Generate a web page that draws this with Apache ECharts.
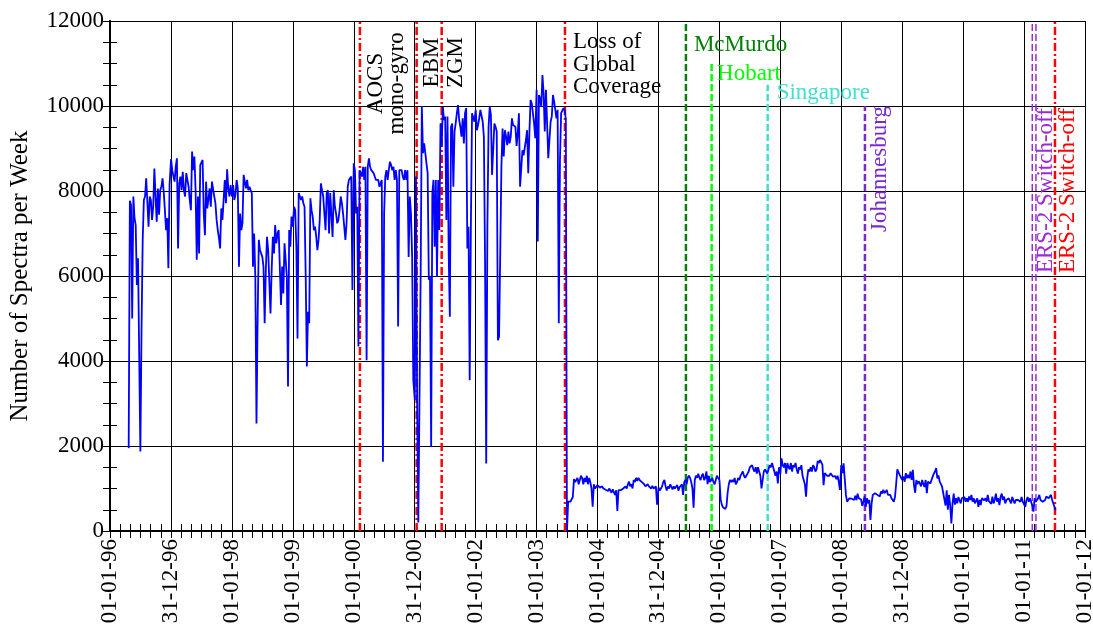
<!DOCTYPE html>
<html><head><meta charset="utf-8">
<script src="https://cdn.jsdelivr.net/npm/echarts@6/dist/echarts.min.js"></script>
<style>html,body{margin:0;padding:0;background:#fff}#c{width:1093px;height:626px}</style>
</head><body><div id="c"></div>
<script>
// ---------- DATA ----------
const xTickLabels = ['01-01-96','31-12-96','01-01-98','01-01-99','01-01-00','31-12-00','01-01-02','01-01-03','01-01-04','31-12-04','01-01-06','01-01-07','01-01-08','31-12-08','01-01-10','01-01-11','01-01-12'];
const yMin = 0, yMax = 12000, yStep = 2000;

// weekly spectra counts, one array per calendar year (week 0 = 1 January)
const firstWeek1996 = 16;
const w1996 = [1950,7770,7670,5000,7870,7360,7200,5790,6420,6380,1870,4730,6850,7790,7870,8300,8300,7160,7870,7790,7320,7630,8530,7870,7280,8060,7440,8020,8100,8300,7980,7550,7080,7360,6180,8140];
const w1997 = [8750,8490,8350,8220,8570,8770,6650,8180,8340,8020,8450,8020,7870,8420,8450,8100,7790,7550,8930,8490,8810,8020,6380,7870,6530,8610,8650,8730,7470,6960,8220,7590,7800,8060,7630,8220,8260,7870,7710,7320,7080,6900,6650,7590,7320,7790,8260,7710,8510,8060,7870,8140];
const w1998 = [7870,8140,7790,7910,8260,8060,6220,7470,7080,7240,8380,8340,8060,8260,8020,8100,8020,7950,6220,7000,5980,2530,5040,6850,6610,6570,6450,6220,4890,6140,6920,6610,6650,5120,6140,6920,6530,7200,6770,7000,7080,7080,5320,6220,5590,6770,6730,5980,3400,7080,6690,7400];
const w1999 = [7160,7630,7550,6690,4530,7950,7870,7790,7870,7710,7630,6000,3870,5160,4890,7830,7550,7400,7080,7160,6930,6610,6850,7320,8180,8020,7870,7470,7080,7950,8020,7000,7950,7990,6920,8020,7630,7470,7240,7320,7550,7870,7710,7470,7160,6850,7240,8100,8260,8260,8340,5670];
const w2000 = [8650,8490,7470,7630,4340,8490,8530,8340,8570,8260,8570,4020,8570,8770,8570,8490,8530,8420,8340,8260,8260,8260,8100,8180,8260,1630,7470,8340,8490,8260,8490,8690,8610,8490,8570,8260,8490,8260,4810,8490,8490,8490,8340,8260,8490,8260,8490,6450,7870,7470,6450,3550];
const w2001 = [3080,8340,3000,200,180,6000,10000,8890,9120,8890,8650,8420,5910,5990,1980,7950,8260,6690,8260,5980,8260,7080,9590,9040,9980,9670,9750,7320,9750,6530,5040,9510,9590,8100,9400,9590,9830,10020,9670,9510,9280,9710,9120,9830,9950,6650,7160,3550,7160,9830,9790,9630];
const w2002 = [9910,9430,9550,9710,9910,9870,9630,9280,6380,1590,7160,9510,9980,9790,8380,8340,9590,9510,9400,4490,4570,6530,8570,9470,8810,9430,9280,9080,9400,9120,9280,9710,9550,9590,9510,9060,9360,9830,8100,8100,8960,8840,8880,9200,9430,8420,9400,10140,10060,10020,9590,9240];
const w2003 = [10380,6810,10260,10180,9980,10730,10300,9400,10380,9590,8770,9200,9630,9750,10260,10100,9910,9710,9910,4890,8730,9830,9870,9950,9900,9700,0,690,670,690,730,800,1220,1150,1180,1250,1100,1200,1300,1250,1100,1250,1150,1300,1100,1250,1150,1000,570,1100,1000,1020];
const w2004 = [1080,1100,1020,1060,1050,1000,1040,970,960,940,1000,990,900,980,960,850,960,470,960,1000,960,950,1000,960,1050,1000,1100,1160,1050,1100,1000,1200,1150,1250,1180,1250,1200,1200,1150,1120,1100,1050,1080,1100,1050,1020,1000,1060,1000,980,1050,620];
const w2005 = [1020,950,1000,1050,1150,1200,1050,950,1050,1000,1100,1060,980,1050,1000,1030,1080,950,1030,1060,1100,850,1150,1200,1100,1250,1300,1250,1150,1000,550,1200,1300,1250,1350,1250,1200,1300,1350,1200,1250,1400,1100,1300,1150,1200,1250,1150,1100,1200,1300,1250];
const w2006 = [1200,750,620,560,540,520,580,900,1100,1200,1150,1200,1150,1250,1100,1150,1250,1200,1300,1350,1400,1300,1250,1300,1350,1400,1500,1500,1550,1450,1400,1500,1350,1500,1400,1300,1000,1200,1400,1450,1400,1350,1450,1550,1500,1600,1500,1400,1300,1400,1120,1500];
const w2007 = [1350,1710,1550,1500,1600,1350,1600,1500,1450,1600,1400,1550,1500,1600,1450,1350,1500,1450,1550,1300,1200,1100,810,1250,1450,1400,1500,1400,1550,1500,1400,1450,1650,1600,1670,1650,1560,1080,1360,1400,1300,1300,1300,1360,1330,1280,1310,1290,1220,1300,1160,965];
const w2008 = [1550,1360,1590,1230,850,690,690,770,730,760,760,730,830,730,880,770,760,740,590,690,810,570,770,650,730,260,650,850,870,890,925,850,890,810,930,880,970,890,925,965,850,890,850,770,730,690,800,1100,1450,1490,1320,1360];
const w2009 = [1200,1280,1160,1360,1240,1320,1240,1400,1200,1440,1080,900,1200,1100,1170,1120,1050,1200,1100,1040,1200,890,1160,1180,1120,1200,1280,1350,1400,1480,1240,1310,1160,1200,1050,900,750,600,960,500,850,600,180,650,880,620,770,650,800,770,650,770];
const w2010 = [730,800,690,770,690,810,730,850,690,770,650,690,770,570,730,610,770,810,720,770,690,850,700,730,640,810,650,730,880,690,770,610,800,880,730,810,650,730,710,770,730,650,800,720,650,730,690,730,770,690,800,690];
const w2011 = [650,570,730,800,690,770,810,600,455,770,690,730,770,850,730,770,690,650,730,810,850,770,810,850,730,650,610,490];

// events (vertical lines)
const eventDates  = ['2000-02-07','2001-01-12','2001-06-11','2003-06-20','2005-06-14','2005-11-15','2006-10-17','2008-05-22','2011-02-19','2011-03-13','2011-07-05'];
const eventLineTop = [12000,12000,12000,12000,12000,11000,10500,10000,12000,12000,12000];
const eventLabels = ['AOCS\nmono-gyro','','EBM\nZGM','Loss of\nGlobal\nCoverage','McMurdo','Hobart','Singapore','Johannesburg','','ERS-2 Switch-off','ERS-2 Switch-off'];

// ---------- BUILD ----------
const DAY = 86400000, T0 = Date.UTC(1996,0,1), YEAR = 365.25;
const toAxis = ms => (ms - T0) / DAY / YEAR;
const dateToAxis = s => { const p = s.split('-').map(Number); return toAxis(Date.UTC(p[0], p[1]-1, p[2])); };

const yearArrays = [[1996,w1996,firstWeek1996],[1997,w1997,0],[1998,w1998,0],[1999,w1999,0],[2000,w2000,0],[2001,w2001,0],[2002,w2002,0],[2003,w2003,0],[2004,w2004,0],[2005,w2005,0],[2006,w2006,0],[2007,w2007,0],[2008,w2008,0],[2009,w2009,0],[2010,w2010,0],[2011,w2011,0]];
const seriesData = [];
yearArrays.forEach(([y, arr, off]) => {
  const start = Date.UTC(y,0,1);
  arr.forEach((v, i) => seriesData.push([toAxis(start + (i + off) * 7 * DAY), v]));
});

const FONT = "'Liberation Serif','Times New Roman',serif";
const RED = '#ff0000', DGREEN = '#008000', LIME = '#00ff00', TURQ = '#40e0d0', PURP = '#7b29cb', PURP2 = '#9a2bd6';
const DASHDOT = [8,3,2,3], DASH = [7,3];
const lineStyles = [
  {color:RED, type:DASHDOT, width:2.5},
  {color:RED, type:DASHDOT, width:2.5},
  {color:RED, type:DASHDOT, width:2.5},
  {color:RED, type:DASHDOT, width:2.5},
  {color:DGREEN, type:DASH, width:2.5},
  {color:LIME, type:DASH, width:2.5},
  {color:TURQ, type:DASH, width:2.5},
  {color:PURP, type:DASH, width:2.5},
  {color:PURP2, type:DASH, width:1.5},
  {color:PURP2, type:DASH, width:1.5},
  {color:RED, type:DASHDOT, width:2.5}
];
// label placement (style config): anchor level, screen offset, rotation, alignment, colour
const labelPlace = [
  {lvl:10530, dx:26.5, dy:0, rot:90, align:'center', va:'middle', color:'#000', lh:21},
  null,
  {lvl:11024, dx:2, dy:0, rot:90, align:'center', va:'middle', color:'#000', lh:24},
  {lvl:12000, dx:8, dy:10, rot:0, align:'left', va:'top', color:'#000', lh:22.5},
  {lvl:12000, dx:8, dy:23.5, rot:0, align:'left', va:'middle', color:DGREEN, lh:23},
  {lvl:11000, dx:5.5, dy:10.5, rot:0, align:'left', va:'middle', color:LIME, lh:23},
  {lvl:10500, dx:9, dy:8.5, rot:0, align:'left', va:'middle', color:TURQ, lh:23},
  {lvl:10000, dx:15, dy:0, rot:90, align:'right', va:'middle', color:PURP, lh:23},
  null,
  {lvl:10000, dx:10, dy:2, rot:90, align:'right', va:'middle', color:PURP2, lh:23},
  {lvl:10000, dx:13, dy:2, rot:90, align:'right', va:'middle', color:RED, lh:23}
];

const eventSeries = eventDates.map((d, i) => ({
  type:'line', silent:true, symbol:'none', animation:false, z:3,
  data:[[dateToAxis(d), 0],[dateToAxis(d), eventLineTop[i]]],
  lineStyle: lineStyles[i]
}));

const annData = [];
eventDates.forEach((d, i) => {
  const p = labelPlace[i];
  if (!p || !eventLabels[i]) return;
  // zrender rotates the offset together with the text: convert screen offset to local frame
  const off = p.rot === 90 ? [-p.dy, p.dx] : [p.dx, p.dy];
  annData.push({
    value:[dateToAxis(d), p.lvl],
    label:{show:true, position:'inside', formatter:eventLabels[i], rotate:p.rot, align:p.align, verticalAlign:p.va,
      offset:off, color:p.color, opacity:1, textBorderWidth:0, fontSize:23, fontFamily:FONT, lineHeight:p.lh}
  });
});

const axisCommonX = {
  type:'value', min:0, max:16, interval:1,
  axisLine:{show:true, lineStyle:{color:'#000', width:2}},
  axisTick:{show:true, inside:true, length:7, lineStyle:{color:'#000', width:1}},
  minorTick:{show:true, splitNumber:6, length:7, lineStyle:{color:'#000', width:1}},
};
const axisCommonY = {
  type:'value', min:yMin, max:yMax, interval:yStep,
  axisLine:{show:true, lineStyle:{color:'#000', width:2}},
  axisTick:{show:true, inside:true, length:7, lineStyle:{color:'#000', width:1}},
  minorTick:{show:true, splitNumber:4, length:7, lineStyle:{color:'#000', width:1}},
};

const chart = echarts.init(document.getElementById('c'), null, {renderer:'canvas'});
chart.setOption({
  animation:false,
  backgroundColor:'#fff',
  grid:{left:110, right:8, top:21, bottom:95, containLabel:false, outerBoundsMode:'none'},
  xAxis:[
    Object.assign({}, axisCommonX, {position:'bottom',
      splitLine:{show:true, lineStyle:{color:'#000', width:1}},
      axisLabel:{show:true, rotate:90, margin:8, fontSize:23, fontFamily:FONT, color:'#000',
        formatter:v => xTickLabels[Math.round(v)] || ''}}),
    Object.assign({}, axisCommonX, {position:'top', splitLine:{show:false}, axisLabel:{show:false}})
  ],
  yAxis:[
    Object.assign({}, axisCommonY, {position:'left',
      name:'Number of Spectra per Week', nameLocation:'middle', nameGap:77, nameRotate:90,
      nameTextStyle:{fontSize:25, fontFamily:FONT, color:'#000'},
      splitLine:{show:true, lineStyle:{color:'#000', width:1}},
      axisLabel:{show:true, margin:6, fontSize:23, fontFamily:FONT, color:'#000', formatter:v => String(v)}}),
    Object.assign({}, axisCommonY, {position:'right', splitLine:{show:false}, axisLabel:{show:false}})
  ],
  series:[
    {type:'line', name:'spectra', data:seriesData, symbol:'none', z:4, animation:false,
      lineStyle:{color:'#0000ff', width:1.8}, clip:true},
    ...eventSeries,
    {type:'scatter', data:annData, symbolSize:1, itemStyle:{color:'rgba(0,0,0,0)', opacity:1}, z:6, silent:true, animation:false}
  ]
});
</script>
</body></html>
